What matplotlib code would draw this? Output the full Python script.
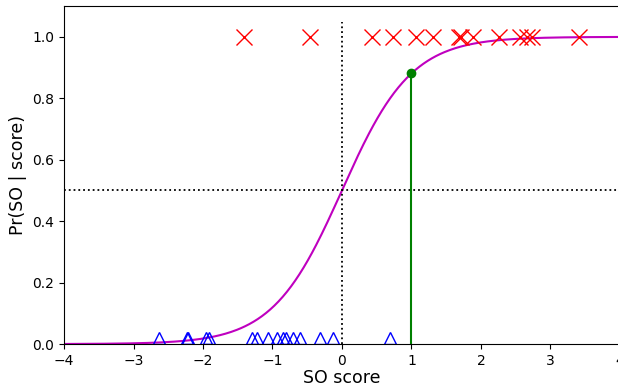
import numpy as np
import matplotlib
matplotlib.use("Agg")
import matplotlib.pyplot as plt

pos_scores = [-1.41, -0.46, 0.43, 0.74, 1.06, 1.31, 1.68, 1.71, 1.88, 2.26, 2.56, 2.66, 2.73, 3.41]
neg_scores = [-2.63, -2.23, -2.21, -1.96, -1.91, -1.30, -1.22, -1.07, -0.94, -0.85,
              -0.80, -0.71, -0.60, -0.32, -0.13, 0.69]
slope = 2.0
threshold = 1.0

fig = plt.figure(figsize=(6.18, 3.84), dpi=100)
ax = fig.add_axes([0.1036, 0.104, 0.8994, 0.880])

xs = np.linspace(-4, 4, 400)
ax.plot(xs, 1 / (1 + np.exp(-slope * xs)), color='m', lw=1.5)
ax.plot(pos_scores, [1.0] * len(pos_scores), 'x', color='red', ms=12, mew=1.0)
ax.plot(neg_scores, [0.02] * len(neg_scores), '^', color='blue', mfc='none', ms=8, mew=1.0)
ax.axhline(0.5, color='k', ls=':', lw=1.3)
ax.plot([0, 0], [0, 1.05], color='k', ls=':', lw=1.3)
pt = 1 / (1 + np.exp(-slope * threshold))
ax.plot([threshold, threshold], [0, pt], color='green', lw=1.5)
ax.plot([threshold], [pt], 'o', color='green', ms=6)

ax.set_xlim(-4, 4)
ax.set_ylim(0, 1.1)
ax.set_yticks([0.0, 0.2, 0.4, 0.6, 0.8, 1.0])
ax.set_xlabel('SO score', fontsize=12.5, labelpad=0.8)
ax.set_ylabel('Pr(SO | score)', fontsize=12.5)

fig.savefig('out.png', dpi=100)
